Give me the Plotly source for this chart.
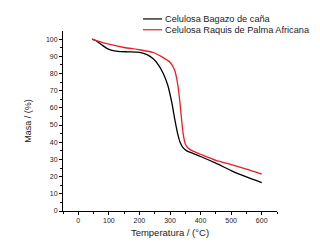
import plotly.graph_objects as go

# Data (TGA curves)
temp_bagazo = [45, 55, 65, 75, 85, 95, 110, 130, 160, 200, 225, 245, 262, 278, 293, 306, 316, 325, 333, 342, 355, 375, 400, 450, 500, 550, 600]
masa_bagazo = [100, 99.3, 98.2, 96.9, 95.6, 94.5, 93.5, 92.9, 92.6, 92.3, 91, 88.5, 85, 80, 73, 63, 53, 45, 40, 37, 35, 33.5, 31.7, 27.8, 23.5, 19.8, 16.5]

temp_raquis = [45, 70, 100, 150, 200, 245, 275, 300, 315, 325, 332, 338, 343, 350, 360, 375, 400, 450, 500, 550, 600]
masa_raquis = [100, 98.5, 97, 95.1, 93.8, 92.2, 89.5, 86.5, 82, 74, 64, 53, 45, 39, 36.5, 34.8, 33, 29.5, 27, 24.4, 21.5]

series_names = ["Celulosa Bagazo de caña", "Celulosa Raquis de Palma Africana"]
series_colors = ["#000000", "#ee1c24"]

x_ticks = [0, 100, 200, 300, 400, 500, 600]
y_ticks = [0, 10, 20, 30, 40, 50, 60, 70, 80, 90, 100]

FONT = "Arial, Liberation Sans, sans-serif"

fig = go.Figure()
for t, m, name, col in zip([temp_bagazo, temp_raquis], [masa_bagazo, masa_raquis], series_names, series_colors):
    fig.add_trace(go.Scatter(x=t, y=m, mode="lines", name=name, showlegend=False,
                             line=dict(color=col, width=1.3, shape="spline", smoothing=0.5)))

# Compact legend (line sample + label) placed above the plot area
legend_rows_y = [1.067, 1.007]
for name, col, ly in zip(series_names, series_colors, legend_rows_y):
    fig.add_shape(type="line", xref="paper", yref="paper", x0=0.374, x1=0.463, y0=ly, y1=ly,
                  line=dict(color=col, width=1.2))
    fig.add_annotation(xref="paper", yref="paper", x=0.466, y=ly, text=name, showarrow=False,
                       xanchor="left", yanchor="middle",
                       font=dict(family=FONT, size=9.2, color="#222"))

axis_common = dict(showline=True, linecolor="#000", linewidth=1, showgrid=False, zeroline=False,
                   ticks="outside", ticklen=3, tickwidth=1, tickcolor="#000", automargin=False,
                   tickfont=dict(family=FONT, size=7, color="#222"), mirror=False)

fig.update_xaxes(range=[-50, 650], tickvals=x_ticks, ticktext=[str(v) for v in x_ticks],
                 minor=dict(dtick=50, tick0=0, ticks="outside", ticklen=2, tickcolor="#000"),
                 title=dict(text="Temperatura / (°C)", font=dict(family=FONT, size=9.5, color="#222"), standoff=5),
                 **axis_common)
fig.update_yaxes(range=[0, 104.7], tickvals=y_ticks, ticktext=[str(v) for v in y_ticks],
                 minor=dict(dtick=5, tick0=0, ticks="outside", ticklen=2, tickcolor="#000"),
                 title=dict(text="Masa / (%)", font=dict(family=FONT, size=9, color="#222"), standoff=12),
                 **axis_common)

# The page body adds an 8px margin, so the figure is 8px smaller and margins are shifted
fig.update_layout(
    width=312, height=236, autosize=False,
    margin=dict(l=55, r=43, t=23, b=33),
    paper_bgcolor="white", plot_bgcolor="white",
)

fig.write_html("out.html")
